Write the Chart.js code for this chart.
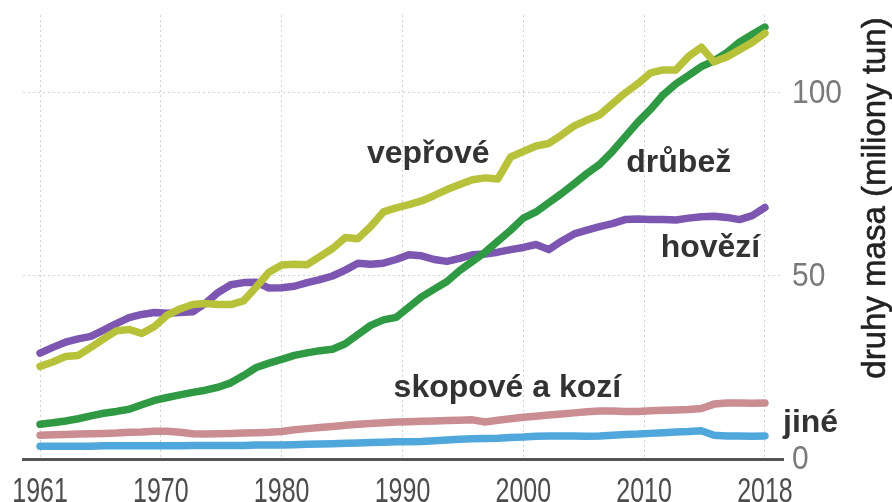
<!DOCTYPE html>
<html>
<head>
<meta charset="utf-8">
<script src="https://cdn.jsdelivr.net/npm/chart.js@4/dist/chart.umd.min.js"></script>
<style>
html,body{margin:0;padding:0;background:#fff;}
#wrap{width:892px;height:502px;position:relative;overflow:hidden;}
</style>
</head>
<body>
<div id="wrap"><canvas id="c" width="892" height="502"></canvas></div>
<script>
// ---- data (million tonnes) ----
const years = [
  1961,1962,1963,1964,1965,1966,1967,1968,1969,1970,
  1971,1972,1973,1974,1975,1976,1977,1978,1979,1980,
  1981,1982,1983,1984,1985,1986,1987,1988,1989,1990,
  1991,1992,1993,1994,1995,1996,1997,1998,1999,2000,
  2001,2002,2003,2004,2005,2006,2007,2008,2009,2010,
  2011,2012,2013,2014,2015,2016,2017,2018
];
const veprove = [
  25.3,26.5,28.0,28.3,30.5,32.8,35.0,35.4,34.3,36.2,
  39.3,41.0,42.2,42.5,42.2,42.2,43.2,47.0,51.0,53.0,
  53.2,53.1,55.3,57.5,60.5,60.2,63.5,67.5,68.6,69.5,
  70.5,72.0,73.6,75.0,76.3,76.8,76.5,82.5,84.0,85.5,
  86.2,88.5,91.0,92.6,94.0,97.0,100.0,102.5,105.5,106.3,
  106.3,110.0,112.5,108.5,109.8,111.8,113.8,116.3
];
const drubez = [
  9.5,9.9,10.4,11.0,11.8,12.5,13.0,13.6,14.8,16.0,
  16.8,17.5,18.2,18.8,19.6,20.8,22.8,25.0,26.2,27.2,
  28.3,29.0,29.6,30.0,31.5,34.0,36.5,38.0,38.7,41.5,
  44.3,46.4,48.5,51.5,54.0,56.5,59.5,62.5,65.8,67.5,
  70.0,72.5,75.2,78.0,80.5,84.0,88.0,92.0,95.5,99.5,
  102.5,104.8,107.2,108.8,111.0,113.9,116.0,118.0
];
const hovezi = [
  28.9,30.5,31.9,32.8,33.5,35.2,37.0,38.6,39.5,40.0,
  39.8,40.0,40.2,42.5,45.5,47.6,48.2,48.3,46.7,46.8,
  47.2,48.2,49.0,50.0,51.6,53.5,53.2,53.5,54.5,55.8,
  55.5,54.5,54.0,54.8,55.8,56.0,56.5,57.2,57.8,58.6,
  57.2,59.5,61.5,62.5,63.5,64.3,65.4,65.6,65.4,65.4,
  65.3,65.8,66.2,66.3,66.0,65.4,66.5,68.7
];
const skopove = [
  6.5,6.6,6.7,6.8,6.9,7.0,7.1,7.3,7.4,7.6,
  7.6,7.3,6.9,6.8,6.9,7.0,7.1,7.2,7.3,7.5,
  8.0,8.3,8.6,8.9,9.2,9.5,9.7,9.9,10.1,10.2,
  10.3,10.4,10.5,10.6,10.7,10.1,10.6,11.0,11.4,11.7,
  12.0,12.3,12.6,12.9,13.1,13.1,13.0,13.0,13.2,13.3,
  13.4,13.5,13.8,15.0,15.3,15.3,15.2,15.3
];
const jine = [
  3.5,3.5,3.5,3.5,3.5,3.6,3.6,3.6,3.6,3.6,
  3.6,3.6,3.7,3.7,3.7,3.7,3.7,3.8,3.8,3.8,
  3.9,4.0,4.1,4.2,4.3,4.4,4.5,4.6,4.7,4.7,
  4.8,5.0,5.2,5.4,5.5,5.6,5.7,5.9,6.0,6.2,
  6.3,6.3,6.3,6.2,6.3,6.5,6.7,6.8,7.0,7.2,
  7.4,7.5,7.7,6.5,6.3,6.3,6.2,6.3
];
const xTickLabels = ['1961','1970','1980','1990','2000','2010','2018'];
const yTickValues = [0, 50, 100];
const seriesNames = ['vepřové','drůbež','hovězí','skopové a kozí','jiné'];
const axisTitle = 'druhy masa (miliony tun)';

// ---- styling ----
const colors = ['#b7c13a','#2f9a43','#7c56b1','#c98d92','#4fa7db'];
const seriesValues = [veprove, drubez, hovezi, skopove, jine];
const sans = '"Liberation Sans", Arial, sans-serif';

// series labels anchored in data coordinates (year, value): left edge / baseline
const labelAnchors = [
  {i:0, year:1986.7, value:80.9},
  {i:1, year:2007.1, value:78.4},
  {i:2, year:2009.8, value:55.2},
  {i:3, year:1988.8, value:16.9},
  {i:4, year:2019.42, value:7.4}
];

const datasets = seriesValues.map((vals, k) => ({
  label: seriesNames[k],
  data: vals.map((v, j) => ({x: years[j], y: v})),
  borderColor: colors[k],
  backgroundColor: colors[k],
  borderWidth: 7.5,
  pointRadius: 0,
  tension: 0,
  borderJoinStyle: 'round',
  borderCapStyle: 'round',
  fill: false
}));

// evenly spaced x tick positions, as in the reference
const xFirst = +xTickLabels[0], xLast = +xTickLabels[xTickLabels.length - 1];
const xTickPos = xTickLabels.map((_, i) => xFirst + i * (xLast - xFirst) / (xTickLabels.length - 1));

function stretchedText(ctx, text, px, py, sy, align) {
  ctx.save();
  ctx.translate(px, py);
  ctx.scale(1, sy);
  ctx.textAlign = align;
  ctx.textBaseline = 'alphabetic';
  ctx.fillText(text, 0, 0);
  ctx.restore();
}

const textPlugin = {
  id: 'textPlugin',
  afterDraw(chart) {
    const {ctx, scales: {x, y}} = chart;
    ctx.save();
    // x tick labels (condensed look)
    ctx.font = '25px ' + sans;
    ctx.fillStyle = '#4d4d4d';
    x.ticks.forEach((t, i) => {
      stretchedText(ctx, xTickLabels[i], x.getPixelForValue(t.value), 501.5, 1.38, 'center');
    });
    // y tick labels
    ctx.font = '30px ' + sans;
    ctx.fillStyle = '#7a7a7a';
    y.ticks.forEach(t => {
      stretchedText(ctx, String(t.value), x.right + 9, y.getPixelForValue(t.value) + 10, 1.12, 'left');
    });
    // series labels
    ctx.font = 'bold 32px ' + sans;
    ctx.fillStyle = '#333';
    ctx.textAlign = 'left';
    ctx.textBaseline = 'alphabetic';
    labelAnchors.forEach(a => {
      ctx.fillText(seriesNames[a.i], x.getPixelForValue(a.year), y.getPixelForValue(a.value));
    });
    // axis title
    ctx.font = '33px ' + sans;
    ctx.fillStyle = '#222';
    ctx.strokeStyle = '#222';
    ctx.lineWidth = 0.6;
    ctx.translate(chart.width - 7, 198);
    ctx.rotate(-Math.PI / 2);
    ctx.textAlign = 'center';
    ctx.fillText(axisTitle, 0, 0);
    ctx.strokeText(axisTitle, 0, 0);
    ctx.restore();
  }
};

new Chart(document.getElementById('c'), {
  type: 'line',
  data: { datasets },
  options: {
    responsive: false,
    animation: false,
    devicePixelRatio: 1,
    layout: { padding: { top: 15, left: 23, right: 0, bottom: 0 } },
    plugins: { legend: { display: false }, tooltip: { enabled: false } },
    scales: {
      x: {
        type: 'linear',
        min: 1959.66,
        max: 2019.42,
        afterBuildTicks: s => { s.ticks = xTickPos.map(v => ({value: v})); },
        afterFit: s => { s.height = 43; },
        ticks: { display: false, autoSkip: false },
        grid: { color: '#d2d2d2', lineWidth: 1, drawTicks: false },
        border: { display: true, color: '#555', width: 3, dash: [2, 3] }
      },
      y: {
        position: 'right',
        min: 0,
        max: 121.3,
        afterBuildTicks: s => { s.ticks = yTickValues.map(v => ({value: v})); },
        afterFit: s => { s.width = 109; },
        ticks: { display: false },
        grid: { color: '#d2d2d2', lineWidth: 1, drawTicks: false },
        border: { display: false, dash: [2, 3] }
      }
    }
  },
  plugins: [textPlugin]
});
</script>
</body>
</html>
